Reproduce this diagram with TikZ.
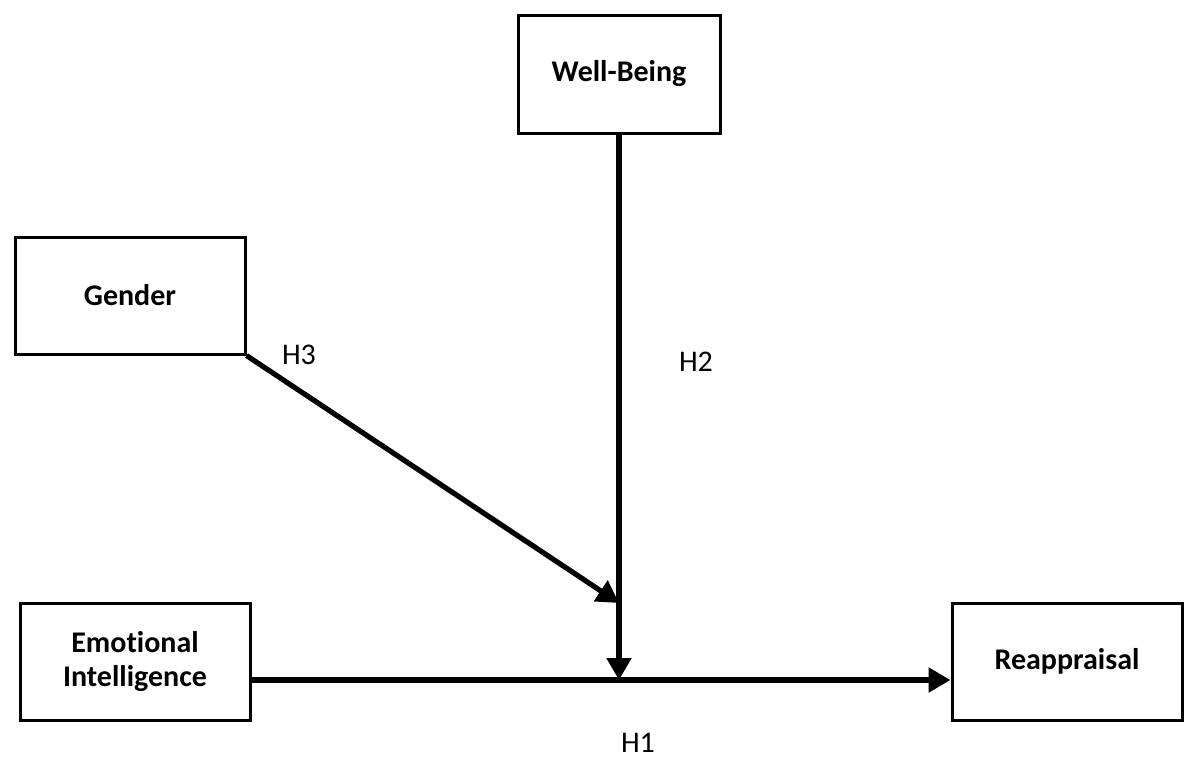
\documentclass[tikz,border=0pt]{standalone}
\usepackage{fontspec}
\setmainfont{Carlito}[Ligatures=NoCommon]
\usetikzlibrary{arrows.meta}

\begin{document}
\begin{tikzpicture}[x=0.5pt,y=-0.5pt,>={Triangle[length=11pt,width=12pt]},
                    box/.style={draw,line width=1.5pt,minimum width=115pt,
                      minimum height=58.5pt,align=center,
                      font=\fontsize{15}{17}\selectfont\bfseries},
                    path/.style={->,line width=2.6pt},
                    hyp/.style={font=\fontsize{15}{17}\selectfont}]
\useasboundingbox (0,0) rectangle (1200,766);

\node[box,minimum width=101pt,minimum height=59pt](wb) at (619,74)  {Well-Being};
\node[box](gen) at (130,295.5) {Gender};
\node[box](ei)  at (135,661.5) {Emotional\\Intelligence};
\node[box](re)  at (1067,661.5) {Reappraisal};

\coordinate (j) at (619,680);
\coordinate (m) at (619,603);

  \draw[path] (ei.east |- j) -- (re.west |- j);
  \draw[path] (wb.south) -- (j);
  \draw[path] (gen.south east) -- (m);

\node[hyp](h3) at (299,355) {H3};
\node[hyp](h2) at (696,362) {H2};
\node[hyp](h1) at (638,743) {H1};
\end{tikzpicture}
\end{document}
